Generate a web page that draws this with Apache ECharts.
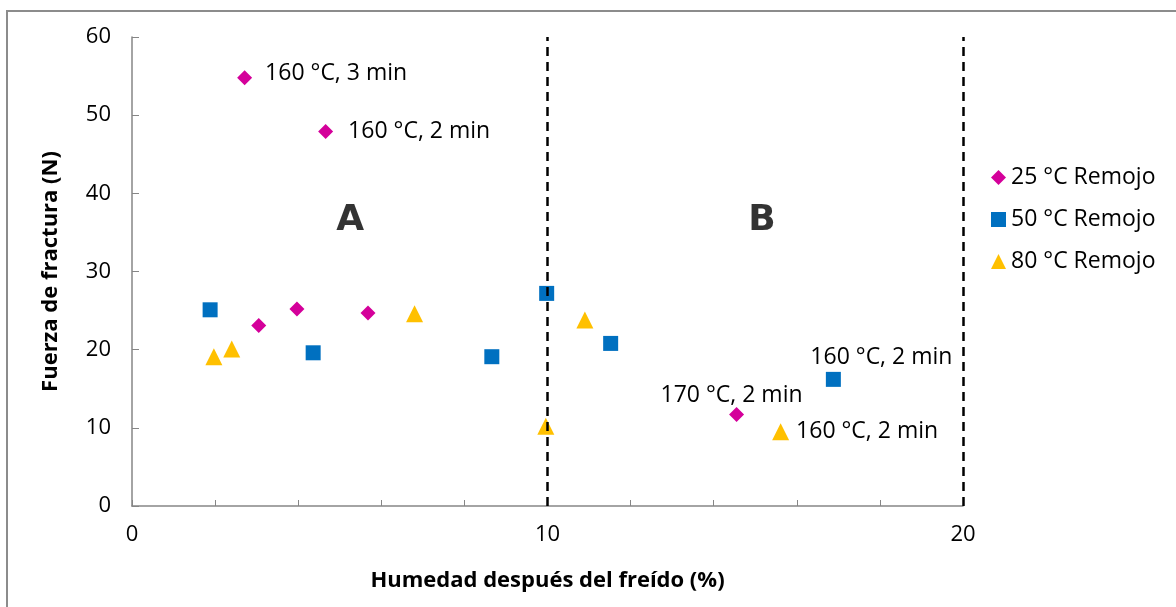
<!DOCTYPE html>
<html>
<head>
<meta charset="utf-8">
<script src="https://cdn.jsdelivr.net/npm/echarts@6/dist/echarts.min.js"></script>
<style>html,body{margin:0;padding:0;background:#fff}#c{width:1176px;height:607px}</style>
</head>
<body>
<div id="c"></div>
<script>
// Series data [humedad %, fuerza N]
var s25 = [[2.71, 54.8], [4.66, 47.9], [3.05, 23.1], [3.97, 25.2], [5.68, 24.7], [14.55, 11.7]];
var s50 = [[1.88, 25.1], [4.36, 19.6], [8.66, 19.1], [9.98, 27.2], [11.52, 20.8], [16.88, 16.2]];
var s80 = [[1.97, 19.1], [2.40, 20.1], [6.80, 24.6], [9.96, 10.2], [10.90, 23.8], [15.61, 9.5]];
var seriesNames = ['25 °C Remojo', '50 °C Remojo', '80 °C Remojo'];
// point annotations: [seriesIndex, pointIndex, text, placement]
var pointLabels = [
  [0, 0, '160 °C, 3 min', 'right'],
  [0, 1, '160 °C, 2 min', 'right'],
  [0, 5, '170 °C, 2 min', 'topleft'],
  [1, 5, '160 °C, 2 min', 'topright'],
  [2, 5, '160 °C, 2 min', 'right']
];
// region annotations
var regions = [[5.25, 36.5, 'A'], [15.16, 36.5, 'B']];
var dividers = [10, 20];
var xTickLabels = [0, 10, 20];

var FONT = 'Open Sans';
var colors = ['#D4009A', '#0070C0', '#FFC000'];
var symbols = ['diamond', 'rect', 'triangle'];
var sizes = [15, 15, 17];
var raw = [s25, s50, s80];

function buildData(si) {
  return raw[si].map(function (p, pi) {
    var item = { value: p };
    pointLabels.forEach(function (l) {
      if (l[0] === si && l[1] === pi) {
        var lab = { show: true, formatter: l[2], color: '#000', fontFamily: FONT, fontSize: 23 };
        if (l[3] === 'right') {
          lab.position = 'right';
          lab.distance = (si === 2 ? 7 : (pi === 0 ? 13 : 15));
          if (si === 0 && pi === 0) lab.offset = [0, -4];
        }
        else if (l[3] === 'topleft') { lab.position = 'top'; lab.offset = [-5, 0]; lab.distance = 0; }
        else if (l[3] === 'topright') { lab.position = 'top'; lab.offset = [48, 0]; lab.distance = 3; }
        item.label = lab;
      }
    });
    return item;
  });
}

var series = seriesNames.map(function (n, i) {
  var s = {
    name: n, type: 'scatter', symbol: symbols[i], symbolSize: sizes[i],
    itemStyle: { color: colors[i], opacity: 1 },
    data: buildData(i),
    z: 3
  };
  if (i === 0) {
    s.markLine = {
      silent: true, symbol: 'none', label: { show: false },
      lineStyle: { color: '#000', type: [9, 6], width: 2.5 },
      emphasis: { disabled: true },
      data: dividers.map(function (d) { return { xAxis: d }; })
    };
  }
  return s;
});
series.push({
  type: 'scatter', symbolSize: 0, silent: true,
  data: regions.map(function (r) { return { value: [r[0], r[1]], label: { show: true, formatter: r[2], position: 'inside' } }; }),
  label: { color: '#000', fontFamily: 'DejaVu Sans', fontWeight: 'bold', fontSize: 36 }
});

var chart = echarts.init(document.getElementById('c'), null, { renderer: 'canvas' });
chart.setOption({
  animation: false,
  backgroundColor: '#fff',
  graphic: [{ type: 'rect', shape: { x: 7, y: 11, width: 1300, height: 800 }, style: { fill: 'none', stroke: '#8c8c8c', lineWidth: 2 }, z: -1 }],
  grid: { left: 132, top: 37, right: 213, bottom: 101 },
  legend: {
    orient: 'vertical', left: 986, top: 161, itemGap: 19, itemWidth: 15, itemHeight: 15,
    data: seriesNames,
    textStyle: { fontFamily: FONT, fontSize: 23, color: '#000' }
  },
  xAxis: {
    type: 'value', min: 0, max: 20, interval: 2,
    name: 'Humedad después del freído (%)', nameLocation: 'middle', nameGap: 64,
    nameTextStyle: { fontFamily: FONT, fontWeight: 'bold', fontSize: 22, color: '#000' },
    axisLine: { lineStyle: { color: '#868686', width: 1.5 } },
    axisTick: { inside: true, length: 6, lineStyle: { color: '#868686' } },
    axisLabel: {
      margin: 18, fontFamily: FONT, fontSize: 22, color: '#000',
      formatter: function (v) { return xTickLabels.indexOf(v) >= 0 ? String(v) : ''; }
    },
    splitLine: { show: false }
  },
  yAxis: {
    type: 'value', min: 0, max: 60, interval: 10,
    name: 'Fuerza de fractura (N)', nameLocation: 'middle', nameGap: 70,
    nameTextStyle: { fontFamily: FONT, fontWeight: 'bold', fontSize: 22, color: '#000' },
    axisLine: { show: true, lineStyle: { color: '#868686', width: 1.5 } },
    axisTick: { show: true, inside: true, length: 7, lineStyle: { color: '#868686' } },
    axisLabel: { margin: 21, fontFamily: FONT, fontSize: 22, color: '#000' },
    splitLine: { show: false }
  },
  series: series
});
</script>
</body>
</html>
